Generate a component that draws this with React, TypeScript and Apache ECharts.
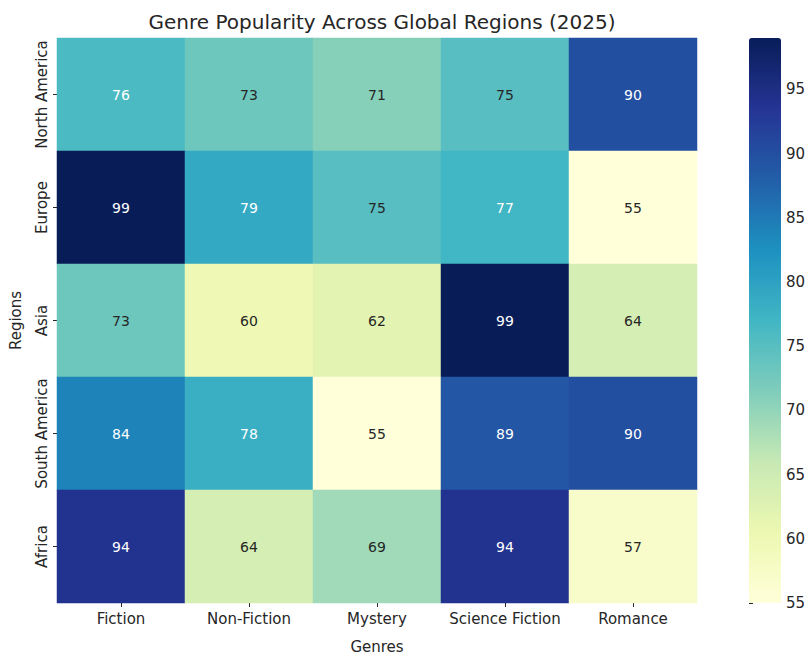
import React, { useEffect, useRef } from "react";
import * as echarts from "echarts";

const genres = ["Fiction", "Non-Fiction", "Mystery", "Science Fiction", "Romance"];
const regions = ["North America", "Europe", "Asia", "South America", "Africa"];
const northAmerica = [76, 73, 71, 75, 90];
const europe = [99, 79, 75, 77, 55];
const asia = [73, 60, 62, 99, 64];
const southAmerica = [84, 78, 55, 89, 90];
const africa = [94, 64, 69, 94, 57];
const colorbarTicks = [55, 60, 65, 70, 75, 80, 85, 90, 95];
const valueMin = 55;
const valueMax = 99;

const ylGnBu = ["#ffffd9", "#edf8b1", "#c7e9b4", "#7fcdbb", "#41b6c4", "#1d91c0", "#225ea8", "#253494", "#081d58"];

export default function App() {
  const ref = useRef<HTMLDivElement>(null);
  useEffect(() => {
    if (!ref.current) return;
    const chart = echarts.init(ref.current, null, { renderer: "svg" });
    const rows = [northAmerica, europe, asia, southAmerica, africa];
    const data: any[] = [];
    rows.forEach((row, ri) => {
      row.forEach((v, ci) => {
        data.push({
          value: [ci, ri, v],
          label: { color: v >= 76 ? "#ffffff" : "#262626" },
        });
      });
    });
    const font = "DejaVu Sans";
    chart.setOption({
      animation: false,
      backgroundColor: "#ffffff",
      textStyle: { fontFamily: font },
      title: {
        text: "Genre Popularity Across Global Regions (2025)",
        left: 377,
        textAlign: "center",
        top: 7,
        textStyle: { fontFamily: font, fontSize: 20, fontWeight: "normal", color: "#262626" },
      },
      grid: [
        { left: 57, right: 111, top: 38, bottom: 64 },
        { left: 749, width: 32, top: 38, height: 565 },
      ],
      xAxis: [
        {
          type: "category",
          gridIndex: 0,
          data: genres,
          name: "Genres",
          nameLocation: "middle",
          nameGap: 36,
          nameTextStyle: { fontSize: 15, color: "#262626" },
          axisLine: { show: false },
          axisTick: { show: true, alignWithLabel: true, interval: 0, length: 4, lineStyle: { color: "#262626" } },
          axisLabel: { fontSize: 15, color: "#262626", margin: 8, interval: 0 },
          splitLine: { show: false },
        },
        { type: "value", gridIndex: 1, show: false, axisLine: { show: false }, axisTick: { show: false }, axisLabel: { show: false } },
      ],
      yAxis: [
        {
          type: "category",
          gridIndex: 0,
          data: regions,
          inverse: true,
          name: "Regions",
          nameLocation: "middle",
          nameGap: 34,
          nameRotate: 90,
          nameTextStyle: { fontSize: 15, color: "#262626" },
          axisLine: { show: false },
          axisTick: { show: true, alignWithLabel: true, interval: 0, length: 4, lineStyle: { color: "#262626" } },
          axisLabel: { fontSize: 15, color: "#262626", rotate: 90, margin: 8, interval: 0 },
          splitLine: { show: false },
        },
        {
          type: "value",
          gridIndex: 1,
          position: "right",
          min: valueMin,
          max: valueMax,
          interval: 5,
          axisLine: { show: false },
          axisTick: { show: true, length: 4, lineStyle: { color: "#262626" }, customValues: colorbarTicks },
          axisLabel: { fontSize: 15, color: "#262626", margin: 6, customValues: colorbarTicks },
          splitLine: { show: false },
        },
      ],
      visualMap: {
        type: "continuous",
        min: valueMin,
        max: valueMax,
        dimension: 2,
        seriesIndex: 0,
        calculable: false,
        show: true,
        left: 749,
        top: 38,
        itemWidth: 32,
        itemHeight: 565,
        padding: 0,
        showLabel: false,
        inRange: { color: ylGnBu },
      },
      series: [
        {
          type: "heatmap",
          xAxisIndex: 0,
          yAxisIndex: 0,
          data,
          label: { show: true, fontSize: 14, fontFamily: font },
          itemStyle: { borderWidth: 0 },
        },
      ],
    });
    return () => chart.dispose();
  }, []);
  return (
    <div
      ref={ref}
      style={{ position: "fixed", left: 0, top: 0, width: 808, height: 667 }}
    />
  );
}
